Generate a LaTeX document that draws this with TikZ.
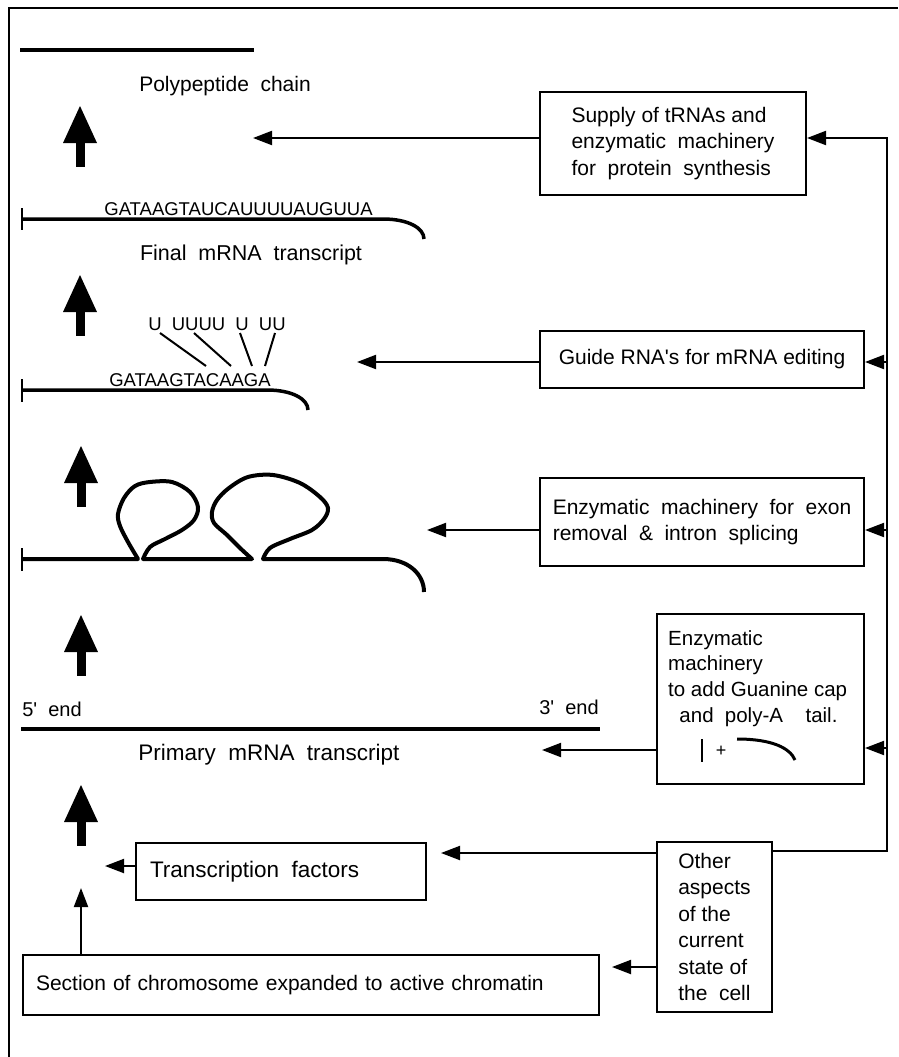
\documentclass[tikz,border=0pt]{standalone}
\usepackage{fontspec}
\setmainfont{Liberation Sans}
\usetikzlibrary{arrows.meta}
\newcommand\ws{\hspace{0.55em}}
\newcommand\bigup[2]{%
  \fill (#1,#2) -- (#1+17,#2+37) -- (#1-17,#2+37) -- cycle;
  \fill (#1-4.5,#2+36) rectangle (#1+4.5,#2+61);
}
\begin{document}
\begin{tikzpicture}[x=1pt,y=-1pt,
  box/.style={draw, line width=2pt, rectangle, inner sep=0pt, font=\fontsize{21}{26.5}\selectfont},
  conn/.style={line width=2pt, -{Triangle[length=19pt,width=14pt]}},
  rna/.style={line width=3.5pt},
  lbl/.style={font=\fontsize{21}{26}\selectfont, inner sep=0pt},
  seq/.style={font=\fontsize{18.5}{22}\selectfont, inner sep=0pt}]
\useasboundingbox (0,0) rectangle (898,1057);
% frame
\draw[line width=1.5pt] (9,1057) -- (9,8) -- (898,8);

% boxes
\node[box, minimum width=266pt, minimum height=103pt, align=left] (sup) at (673,143.5)
  {Supply of tRNAs and\\enzymatic\ws machinery\\for\ws protein\ws synthesis};
\node[box, minimum width=324pt, minimum height=57pt] (gui) at (702,359.5)
  {Guide RNA\textquotesingle s for mRNA editing};
\node[box, minimum width=324pt, minimum height=88pt, align=left] (exo) at (702,522)
  {Enzymatic\ws machinery\ws for\ws exon\\removal\ws \&\ws intron\ws splicing};
\node[box, minimum width=207pt, minimum height=170pt] (cap) at (760.5,699) {};
\node[lbl, align=left, anchor=north west, font=\fontsize{20.5}{25.7}\selectfont] (capt) at (668,630)
  {Enzymatic\\machinery\\to add Guanine cap\\\ws and\ws poly-A\ws\ws tail.};
\node[box, minimum width=115pt, minimum height=170pt, align=left] (oth) at (714.5,927)
  {Other\\aspects\\of the\\current\\state of\\the\ws cell};
\node[box, minimum width=290pt, minimum height=57pt, text width=262pt, inner xsep=14pt, align=left,
  font=\fontsize{22.5}{27}\selectfont] (tf) at (281,871.5)
  {Transcription\ws factors};
\node[box, minimum width=576pt, minimum height=60pt, text width=550pt, inner xsep=13pt, align=left] (sec) at (311,985)
  {Section of chromosome expanded to active chromatin};

% right bus
\coordinate (b1) at (887,138);
\coordinate (b2) at (887,362);
\coordinate (b3) at (887,530);
\coordinate (b4) at (887,748);
\coordinate (b5) at (887,851);
\draw[conn] (oth.east |- b5) -- (b5) -- (b1) -- (sup.east |- b1);
\draw[conn] (b2) -- (gui.east |- b2);
\draw[conn] (b3) -- (exo.east |- b3);
\draw[conn] (b4) -- (cap.east |- b4);

% left-pointing connectors
\coordinate (t1) at (253,138);
\coordinate (t2) at (357,362);
\coordinate (t3) at (427,530);
\coordinate (t4) at (542,750);
\coordinate (t5) at (441,853);
\coordinate (t6) at (612,967);
\coordinate (t7) at (105,866);
\coordinate (t8) at (81,888);
\draw[conn] (sup.west |- t1) -- (t1);
\draw[conn] (gui.west |- t2) -- (t2);
\draw[conn] (exo.west |- t3) -- (t3);
\draw[conn] (cap.west |- t4) -- (t4);
\draw[conn] (oth.west |- t5) -- (t5);
\draw[conn] (oth.west |- t6) -- (t6);
\draw[conn] (tf.west |- t7) -- (t7);
\draw[conn] (sec.north -| t8) -- (t8);

% big up arrows
\bigup{80}{106}
\bigup{80}{275}
\bigup{81}{446}
\bigup{81}{615}
\bigup{81}{785}

% polypeptide
\draw[line width=4pt] (20,50) -- (254,50);
\node[lbl, anchor=base] (pp) at (225,91) {Polypeptide\ws chain};

% final mRNA
\draw[line width=2.5pt] (22,208) -- (22,230);
\draw[rna] (22,219) -- (383,219) .. controls (408,219) and (424,228) .. (424,239);
\node[seq, anchor=base] (s1) at (238.5,215) {GATAAGTAUCAUUUUAUGUUA};
\node[lbl, anchor=base, font=\fontsize{21.5}{26}\selectfont] (fin) at (251,260) {Final\ws mRNA\ws transcript};

% edited mRNA
\node[seq, anchor=base] (s3) at (217,330) {U\ws UUUU\ws U\ws UU};
\draw[line width=2pt] (160,333) -- (206,366);
\draw[line width=2pt] (194,333) -- (231,366);
\draw[line width=2pt] (240,333) -- (252,366);
\draw[line width=2pt] (275,333) -- (265,366);
\draw[line width=2.5pt] (22,379) -- (22,402);
\draw[rna] (22,390) -- (267,390) .. controls (292,390) and (308,399) .. (308,410);
\node[seq, anchor=base] (s2) at (190,386) {GATAAGTACAAGA};

% spliced mRNA with loops
\draw[line width=2.5pt] (22,548) -- (22,571);
\draw[rna, line width=4pt, line join=round] (22,559) -- (138,559) -- plot[smooth, tension=0.55] coordinates
  {(138,559) (128,542) (120,526) (118,514) (124,498) (135,486) (150,482) (172,482) (190,492) (198,507) (194,520) (182,530) (165,539) (150,547) (143,559)}
  -- (252,559) -- plot[smooth, tension=0.55] coordinates
  {(252,559) (240,548) (227,535) (214,523) (212,512) (217,500) (229,488) (248,477) (273,475) (300,483) (320,497) (328,508) (324,519) (312,530) (290,539) (270,548) (263,559)}
  -- (383,559) .. controls (408,559) and (424,574) .. (424,592);

% primary transcript
\node[lbl, anchor=base, font=\fontsize{20}{24}\selectfont] (e5) at (52,716) {5\textquotesingle\ws end};
\node[lbl, anchor=base, font=\fontsize{20}{24}\selectfont] (e3) at (569,714) {3\textquotesingle\ws end};
\draw[rna] (21,729) -- (600,729);
\node[lbl, anchor=base, font=\fontsize{22.5}{27}\selectfont] (pri) at (269,760) {Primary\ws mRNA\ws transcript};

% cap and tail symbols
\draw[line width=2pt] (702,739) -- (702,762);
\node[font=\fontsize{18}{18}\selectfont, inner sep=0pt] (plus) at (721,751) {+};
\draw[line width=3pt] (737,739) .. controls (772,739) and (790,748) .. (795,760);
\end{tikzpicture}
\end{document}
